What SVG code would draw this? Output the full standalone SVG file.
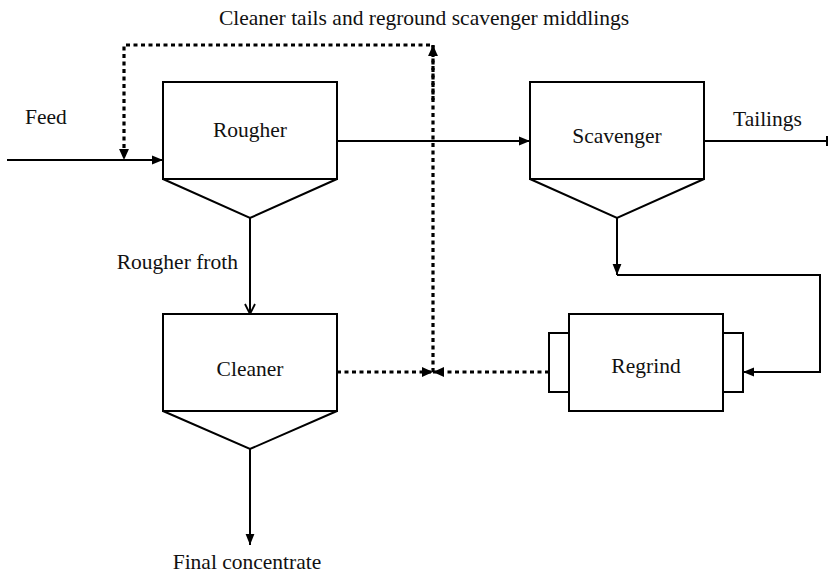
<svg xmlns="http://www.w3.org/2000/svg" width="828" height="576" viewBox="0 0 828 576">
<style>
text{font-family:"Liberation Serif","DejaVu Serif",serif;font-size:21.5px;fill:#111}
.s{fill:none;stroke:#000;stroke-width:2}
.d{fill:none;stroke:#000;stroke-width:3.2;stroke-dasharray:4 3.5}
.box{fill:#fff;stroke:#000;stroke-width:2}
</style>
<defs>
<marker id="a" viewBox="0 0 10 10" refX="10" refY="5" markerWidth="11" markerHeight="11" markerUnits="userSpaceOnUse" orient="auto"><path d="M0,1L10,5L0,9Z" fill="#000"/></marker>
<marker id="ad" viewBox="0 0 10 10" refX="10" refY="5" markerWidth="11" markerHeight="11" markerUnits="userSpaceOnUse" orient="auto"><path d="M0,0.5L10,5L0,9.5Z" fill="#000"/></marker>
<marker id="o" viewBox="0 0 12 12" refX="11" refY="6" markerWidth="12" markerHeight="12" markerUnits="userSpaceOnUse" orient="auto"><path d="M1,1L11,6L1,11" fill="none" stroke="#000" stroke-width="1.8"/></marker>
</defs>
<g id="rougher">
<rect class="box" x="163" y="82" width="174" height="97"/>
<path class="s" d="M163,179L250,218L337,179"/>
<text x="250" y="137" text-anchor="middle">Rougher</text>
</g>
<g id="scavenger">
<rect class="box" x="530" y="82" width="174" height="97"/>
<path class="s" d="M530,179L617,218L704,179"/>
<text x="617" y="143" text-anchor="middle">Scavenger</text>
</g>
<g id="cleaner">
<rect class="box" x="163" y="314" width="174" height="97"/>
<path class="s" d="M163,411L250,449L337,411"/>
<text x="250" y="376" text-anchor="middle">Cleaner</text>
</g>
<g id="regrind">
<rect class="box" x="549" y="333" width="20" height="59"/>
<rect class="box" x="723" y="333" width="20" height="59"/>
<rect class="box" x="569" y="314" width="154" height="97"/>
<text x="646" y="373" text-anchor="middle">Regrind</text>
</g>
<g id="connectors">
<path class="s" d="M7,160H163" marker-end="url(#a)"/>
<path class="s" d="M337,141H530" marker-end="url(#a)"/>
<path class="s" d="M704,141H827M827,136V146"/>
<path class="s" d="M250,218V314" marker-end="url(#o)"/>
<path class="s" d="M250,449V545" marker-end="url(#a)"/>
<path class="s" d="M617,218V275" marker-end="url(#a)"/>
<path class="s" d="M617,275H820V372H743" marker-end="url(#a)"/>
<path class="d" d="M433,372V45H124V160" marker-end="url(#ad)"/>
<path class="d" d="M433,100V45" marker-end="url(#ad)"/>
<path class="d" d="M337,372H433" marker-end="url(#ad)"/>
<path class="d" d="M549,372H433" marker-end="url(#ad)"/>
</g>
<g id="labels">
<text x="424" y="25" text-anchor="middle">Cleaner tails and reground scavenger middlings</text>
<text x="25" y="124">Feed</text>
<text x="733" y="126">Tailings</text>
<text x="238" y="269" text-anchor="end">Rougher froth</text>
<text x="247" y="569" text-anchor="middle">Final concentrate</text>
</g>
</svg>
